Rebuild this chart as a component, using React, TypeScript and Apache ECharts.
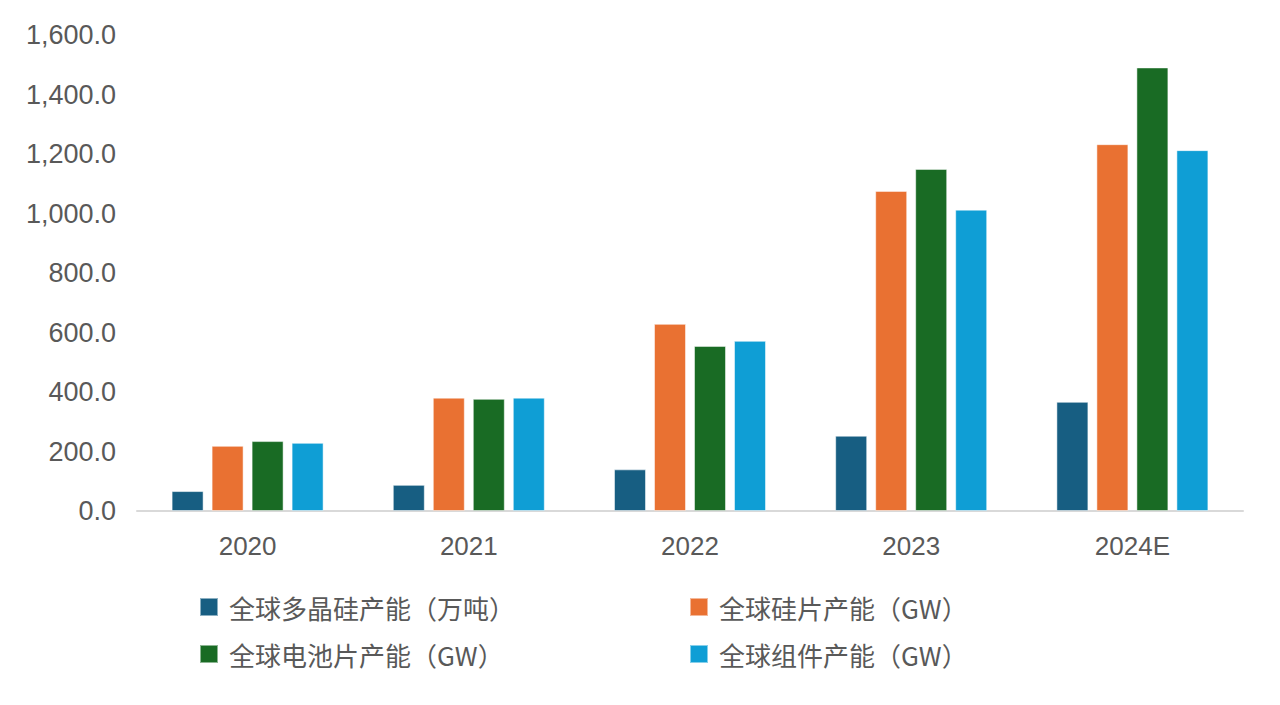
import React, { useEffect, useRef } from "react";
import * as echarts from "echarts";

const categories = ["2020", "2021", "2022", "2023", "2024E"];
const seriesNames = [
  "全球多晶硅产能（万吨）",
  "全球硅片产能（GW）",
  "全球电池片产能（GW）",
  "全球组件产能（GW）",
];
const polysilicon = [67, 88, 140, 253, 367];
const wafer = [219, 381, 629, 1076, 1233];
const cell = [235, 377, 555, 1150, 1491];
const module = [229, 381, 572, 1013, 1213];
const colors = ["#175E82", "#E97132", "#196B24", "#0F9ED5"];

export default function App() {
  const ref = useRef<HTMLDivElement>(null);
  useEffect(() => {
    const chart = echarts.init(ref.current!, null, { renderer: "svg" });
    const values = [polysilicon, wafer, cell, module];
    const legendPos = [
      { left: 194, top: 589 },
      { left: 684, top: 589 },
      { left: 194, top: 636 },
      { left: 684, top: 636 },
    ];
    chart.setOption({
      animation: false,
      color: colors,
      grid: { left: 137, right: 37, top: 35, bottom: 194 },
      legend: seriesNames.map((n, i) => ({
        data: [n],
        left: legendPos[i].left,
        top: legendPos[i].top,
        icon: "rect",
        itemWidth: 18,
        itemHeight: 18,
        itemGap: 0,
        textStyle: {
          fontFamily: "'Noto Sans CJK SC', 'Liberation Sans', sans-serif",
          fontSize: 26,
          color: "#595959",
          padding: [0, 0, 0, 6],
        },
      })),
      xAxis: {
        type: "category",
        data: categories,
        axisLine: { lineStyle: { color: "#D9D9D9", width: 2 } },
        axisTick: { show: false },
        axisLabel: {
          fontFamily: "'Liberation Sans', Arial, sans-serif",
          fontSize: 26,
          color: "#595959",
          margin: 22,
        },
      },
      yAxis: {
        type: "value",
        min: 0,
        max: 1600,
        interval: 200,
        splitLine: { show: false },
        axisLine: { show: false },
        axisLabel: {
          fontFamily: "'Liberation Sans', Arial, sans-serif",
          fontSize: 27,
          color: "#595959",
          margin: 21,
          formatter: (v: number) =>
            v.toLocaleString("en-US", { minimumFractionDigits: 1, maximumFractionDigits: 1 }),
        },
      },
      series: seriesNames.map((n, i) => ({
        name: n,
        type: "bar",
        data: values[i],
        barWidth: 32,
        barGap: "25%",
        itemStyle: { color: colors[i], borderColor: "rgba(255,255,255,0.5)", borderWidth: 1 },
      })),
    });
    return () => chart.dispose();
  }, []);
  return (
    <div
      ref={ref}
      style={{ position: "fixed", left: 0, top: 0, width: 1280, height: 705, background: "#fff" }}
    />
  );
}
